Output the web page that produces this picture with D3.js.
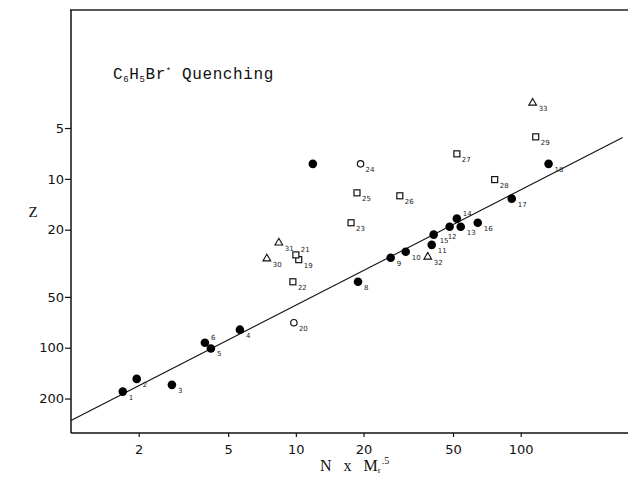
<!DOCTYPE html>
<html>
<head>
<meta charset="utf-8">
<script src="https://cdn.jsdelivr.net/npm/d3@7"></script>
<style>
  body { margin: 0; background: #fff; }
  svg { display: block; }
</style>
</head>
<body>
<svg id="chart" width="630" height="478"></svg>
<script>
// ---- data ----
// filled circles
var filledX = [1.70, 1.96, 2.81, 5.64, 4.19, 3.94, 11.9, 18.9, 26.4, 30.8, 40.2, 48.3, 54.1, 52.0, 41.0, 64.4, 91.2, 133];
var filledZ = [182, 153, 166, 78.2, 101, 93.4, 8.15, 40.7, 29.3, 27.0, 24.6, 19.2, 19.2, 17.2, 21.4, 18.2, 13.1, 8.15];
var filledLab = ["1", "2", "3", "4", "5", "6", "", "8", "9", "10", "11", "12", "13", "14", "15", "16", "17", "18"];
var filledPos = ["sub", "sub", "sub", "sub", "sub", "sup", "sub", "sub", "sub", "sub", "sub", "below", "sub", "sup", "sub", "sub", "sub", "sub"];
// open squares
var squareX = [10.3, 10.0, 9.70, 17.6, 18.7, 29.0, 52.0, 76.6, 116.6];
var squareZ = [30.1, 28.2, 40.7, 18.2, 12.1, 12.6, 7.11, 10.1, 5.64];
var squareLab = ["19", "21", "22", "23", "25", "26", "27", "28", "29"];
var squarePos = ["sub", "sup", "sub", "sub", "sub", "sub", "sub", "sub", "sub"];
// open circles
var circleX = [9.80, 19.4];
var circleZ = [71.1, 8.15];
var circleLab = ["20", "24"];
// open triangles
var triX = [7.43, 8.40, 38.6, 113];
var triZ = [29.7, 23.9, 29.0, 3.55];
var triLab = ["30", "31", "32", "33"];
// least squares line  Z = a * X^b
var fitA = 270, fitB = -0.683, fitXRange = [1, 284];

var xTicks = [2, 5, 10, 20, 50, 100];
var yTicks = [5, 10, 20, 50, 100, 200];

// ---- layout ----
var svg = d3.select("#chart"),
    plotL = 71, plotR = 628, plotT = 10, plotB = 433;

var x = d3.scaleLog().domain([1, 300]).range([plotL, plotR]);
var y = d3.scaleLog().domain([1, 320]).range([plotT, plotB]);   // Z grows downward

// frame (top edge)
svg.append("line").attr("x1", plotL - 1).attr("x2", plotR).attr("y1", plotT).attr("y2", plotT)
    .attr("stroke", "#222").attr("stroke-width", 1.6);

var xAxis = svg.append("g").attr("transform", `translate(0,${plotB})`)
    .call(d3.axisBottom(x).tickValues(xTicks).tickFormat(d3.format("d")).tickSize(4).tickSizeOuter(0));
var yAxis = svg.append("g").attr("transform", `translate(${plotL},0)`)
    .call(d3.axisLeft(y).tickValues(yTicks).tickFormat(d3.format("d")).tickSize(6).tickSizeOuter(0));

[xAxis, yAxis].forEach(function (g) {
    g.select(".domain").attr("stroke", "#111").attr("stroke-width", 1.5);
    g.selectAll(".tick line").attr("stroke", "#111").attr("stroke-width", 1.2);
    g.selectAll("text").attr("fill", "#111")
        .style("font-family", "'DejaVu Sans', sans-serif").style("font-size", "13px");
});
xAxis.select(".domain").attr("d", `M${plotL},0H${plotR}`);
yAxis.select(".domain").attr("d", `M0,${plotT}V${plotB}`);
xAxis.selectAll("text").attr("dy", "1.05em");
yAxis.selectAll("text").attr("x", -7);

// regression line
var line = d3.line().x(d => x(d[0])).y(d => y(d[1]));
svg.append("path")
    .datum(fitXRange.map(v => [v, fitA * Math.pow(v, fitB)]))
    .attr("d", line)
    .attr("fill", "none").attr("stroke", "#111").attr("stroke-width", 1.1);

// ---- points ----
function zipPts(xs, zs, labs, pos) {
    return xs.map((v, i) => ({ x: v, z: zs[i], lab: labs[i], pos: pos ? pos[i] : "sub" }));
}
var filled = zipPts(filledX, filledZ, filledLab, filledPos),
    squares = zipPts(squareX, squareZ, squareLab, squarePos),
    circles = zipPts(circleX, circleZ, circleLab),
    tris = zipPts(triX, triZ, triLab);

svg.append("g").selectAll("circle").data(filled).join("circle")
    .attr("cx", d => x(d.x)).attr("cy", d => y(d.z)).attr("r", 4.3)
    .attr("fill", "#000");

svg.append("g").selectAll("rect").data(squares).join("rect")
    .attr("x", d => x(d.x) - 3).attr("y", d => y(d.z) - 3)
    .attr("width", 6).attr("height", 6)
    .attr("fill", "#fff").attr("stroke", "#111").attr("stroke-width", 1.2);

svg.append("g").selectAll("circle").data(circles).join("circle")
    .attr("cx", d => x(d.x)).attr("cy", d => y(d.z)).attr("r", 3.2)
    .attr("fill", "#fff").attr("stroke", "#111").attr("stroke-width", 1.2);

var tri = d3.symbol().type(d3.symbolTriangle).size(26);
svg.append("g").selectAll("path").data(tris).join("path")
    .attr("transform", d => `translate(${x(d.x)},${y(d.z)})`)
    .attr("d", tri)
    .attr("fill", "#fff").attr("stroke", "#111").attr("stroke-width", 1.1);

// point numbers
function addLabels(data, gap) {
    svg.append("g").selectAll("text").data(data).join("text")
        .attr("x", d => x(d.x) + (d.pos == "below" ? -2 : gap))
        .attr("y", d => y(d.z) + (d.pos == "sup" ? -3 : d.pos == "below" ? 12 : 8))
        .style("font-family", "'DejaVu Sans', sans-serif")
        .style("font-size", "7px")
        .attr("fill", "#222")
        .text(d => d.lab);
}
addLabels(filled, 6);
addLabels(squares, 5);
addLabels(circles, 5);
addLabels(tris, 6);

// ---- texts ----
var title = svg.append("text").attr("x", 113).attr("y", 79)
    .style("font-family", "'Liberation Mono', 'DejaVu Sans Mono', monospace")
    .style("font-size", "16px").style("letter-spacing", "0.6px").attr("fill", "#111");
title.append("tspan").text("C");
title.append("tspan").attr("dy", 3).style("font-size", "9px").text("6");
title.append("tspan").attr("dy", -3).text("H");
title.append("tspan").attr("dy", 3).style("font-size", "9px").text("5");
title.append("tspan").attr("dy", -3).text("Br");
title.append("tspan").attr("dy", -5).style("font-size", "9px").text("*");
title.append("tspan").attr("dy", 5).text(" Quenching");

svg.append("text").attr("x", 33).attr("y", 217)
    .attr("text-anchor", "middle")
    .style("font-family", "'Liberation Serif', serif").style("font-size", "15px")
    .attr("fill", "#111").text("Z");

var xl = svg.append("text").attr("x", 320).attr("y", 471)
    .style("font-family", "'Liberation Serif', serif").style("font-size", "16px")
    .attr("fill", "#111");
xl.append("tspan").text("N");
xl.append("tspan").attr("dx", 12).text("x");
xl.append("tspan").attr("dx", 12).text("M");
xl.append("tspan").attr("dy", 2).style("font-size", "9px").text("r");
xl.append("tspan").attr("dy", -9).attr("dx", 1).style("font-size", "10px").text(".5");
</script>
</body>
</html>
